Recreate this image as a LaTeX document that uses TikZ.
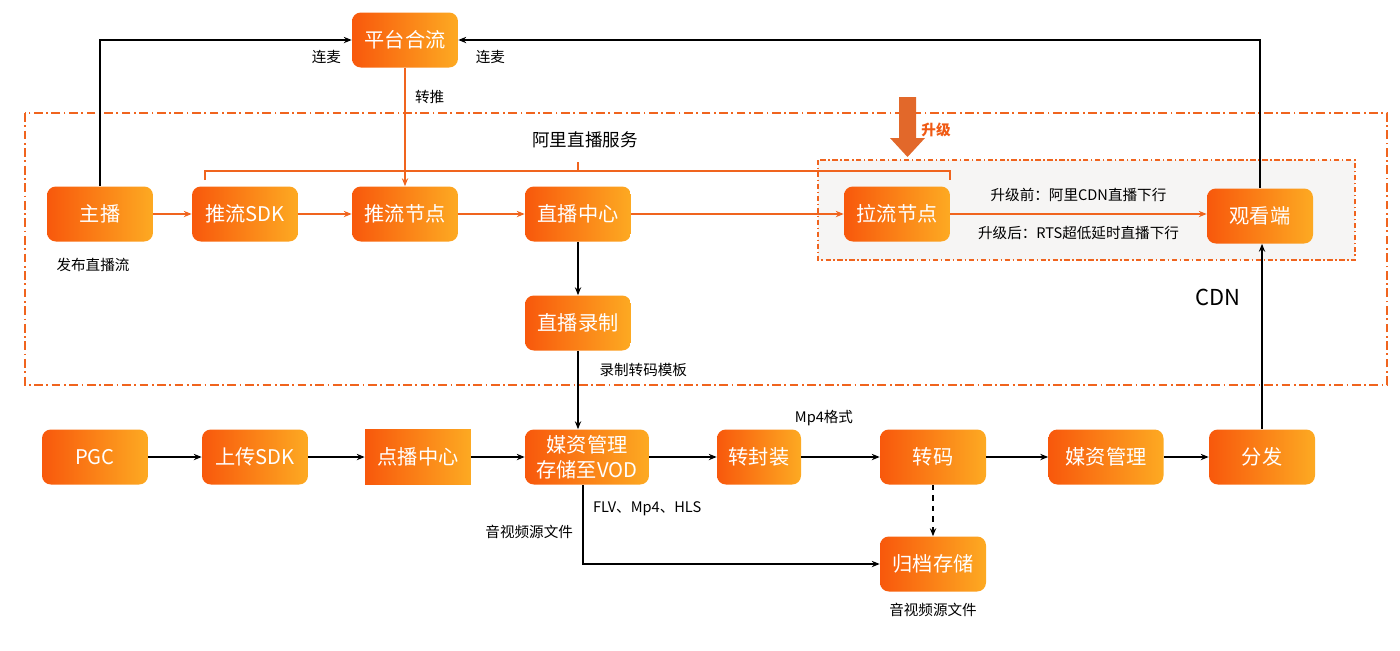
\documentclass[tikz,border=0pt]{standalone}
\usepackage{fontspec}
\setmainfont{Noto Sans CJK SC}
\usepackage{tikz}
\usetikzlibrary{arrows.meta,positioning,calc}
\definecolor{ordark}{RGB}{248,88,12}
\definecolor{orlight}{RGB}{253,170,34}
\definecolor{orline}{RGB}{240,100,30}
\definecolor{upcol}{RGB}{226,104,42}
\definecolor{uptext}{RGB}{240,90,20}
\definecolor{graybg}{RGB}{246,245,244}

\begin{document}
\begin{tikzpicture}[x=0.02cm,y=-0.02cm,>={Stealth[length=4.5pt,width=3.6pt]},
  box/.style={rounded corners=5pt,left color=ordark,right color=orlight,text=white,
    minimum width=2.12cm,minimum height=1.1cm,inner sep=0pt,align=center,
    font=\fontsize{11.5}{14}\selectfont},
  lbl/.style={font=\fontsize{8.3}{10}\selectfont},
  oline/.style={orline,line width=0.8pt},
  bline/.style={black,line width=0.8pt},
  dashdot/.style={orline,line width=0.8pt,dash pattern=on 5pt off 2pt on 1pt off 2pt}]
  \useasboundingbox (0,0) rectangle (1400,650);
  % service frame and upgrade area
  \draw[dashdot] (25,113) rectangle (1387,385);
  \draw[dashdot,line width=0.6pt,dash pattern=on 3pt off 1.5pt on 0.8pt off 1.5pt,fill=graybg]
    (818,160) rectangle (1355,260);
  \draw[oline] (205,180) -- (205,171) -- (950,171) -- (950,180);
  \draw[oline] (578,171) -- (578,162);
  \node[font=\fontsize{10}{12}\selectfont] (service) at (585,140) {阿里直播服务};
  \fill[upcol] (899,97) -- (916,97) -- (916,138) -- (925,138) -- (907.5,157)
    -- (890,138) -- (899,138) -- cycle;
  \node[font=\fontsize{8.3}{10}\selectfont\bfseries,text=uptext] (upgrade) at (936,130) {升级};

  % live row
  \node[box] (merge) at (405,40) {平台合流};
  \node[box] (anchor) at (100,214) {主播};
  \node[box] (pushsdk) at (245,214) {推流SDK};
  \node[box] (pushnode) at (405,214) {推流节点};
  \node[box] (livecenter) at (578,214) {直播中心};
  \node[box] (pullnode) at (897,214) {拉流节点};
  \node[box] (viewer) at (1260,216) {观看端};
  \node[box] (record) at (578,323) {直播录制};
  \node[lbl,below=0.2cm of anchor,xshift=-4pt] (publish) {发布直播流};

  % vod row
  \node[box] (pgc) at (95,457) {PGC};
  \node[box] (upsdk) at (255,457) {上传SDK};
  \node[box,rounded corners=0pt] (vodcenter) at (418,457) {点播中心};
  \node[box,minimum width=2.48cm] (vodstore) at (587,457) {媒资管理\\存储至VOD};
  \node[box,minimum width=1.68cm] (remux) at (759,457) {转封装};
  \node[box] (transcode) at (933,457) {转码};
  \node[box,minimum width=2.3cm] (media) at (1106,457) {媒资管理};
  \node[box] (dist) at (1262,457) {分发};
  \node[box] (archive) at (933,564) {归档存储};
  \node[lbl,below=0.1cm of archive] (archivefile) {音视频源文件};
  \node[lbl] (mp4fmt) at (824,418) {Mp4格式};

  % live connectors
  \foreach \a/\b in {anchor/pushsdk,pushsdk/pushnode,pushnode/livecenter,livecenter/pullnode}
    \draw[oline,->] (\a) -- (\b);
  \draw[oline,->] (pullnode) -- (pullnode -| viewer.west)
    node[lbl,pos=0.5,above=0.12cm,text=black] {升级前：阿里CDN直播下行}
    node[lbl,pos=0.5,below=0.12cm,text=black] {升级后：RTS超低延时直播下行};
  \draw[oline,->] (merge) -- (pushnode) node[lbl,pos=0.25,right=2pt,text=black] {转推};
  \draw[bline,->] (anchor.north) |- (merge.west) node[lbl,pos=0.95,below=2pt] {连麦};
  \draw[bline,->] (viewer.north) |- (merge.east) node[lbl,pos=0.98,below=2pt] {连麦};
  \draw[bline,->] (livecenter) -- (record);
  \draw[bline,->] (record.south) -- (record.south |- vodstore.north)
    node[lbl,pos=0.25,right=0.3cm] {录制转码模板};
  \draw[bline,->] (dist) -- (dist |- viewer.south)
    node[font=\fontsize{12.5}{14}\selectfont,pos=0.71,left=0.3cm] {CDN};

  % vod connectors
  \foreach \a/\b in {pgc/upsdk,upsdk/vodcenter,vodcenter/vodstore,vodstore/remux,
    remux/transcode,transcode/media,media/dist}
    \draw[bline,->] (\a) -- (\b);
  \draw[bline,dashed,->] (transcode) -- (archive);
  \coordinate (vodout) at (583,485);
  \draw[bline,->] (vodout) |- (archive.west)
    node[lbl,pos=0.15,right=2pt] {FLV、Mp4、HLS}
    node[lbl,pos=0.3,left=2pt] {音视频源文件};
\end{tikzpicture}
\end{document}
